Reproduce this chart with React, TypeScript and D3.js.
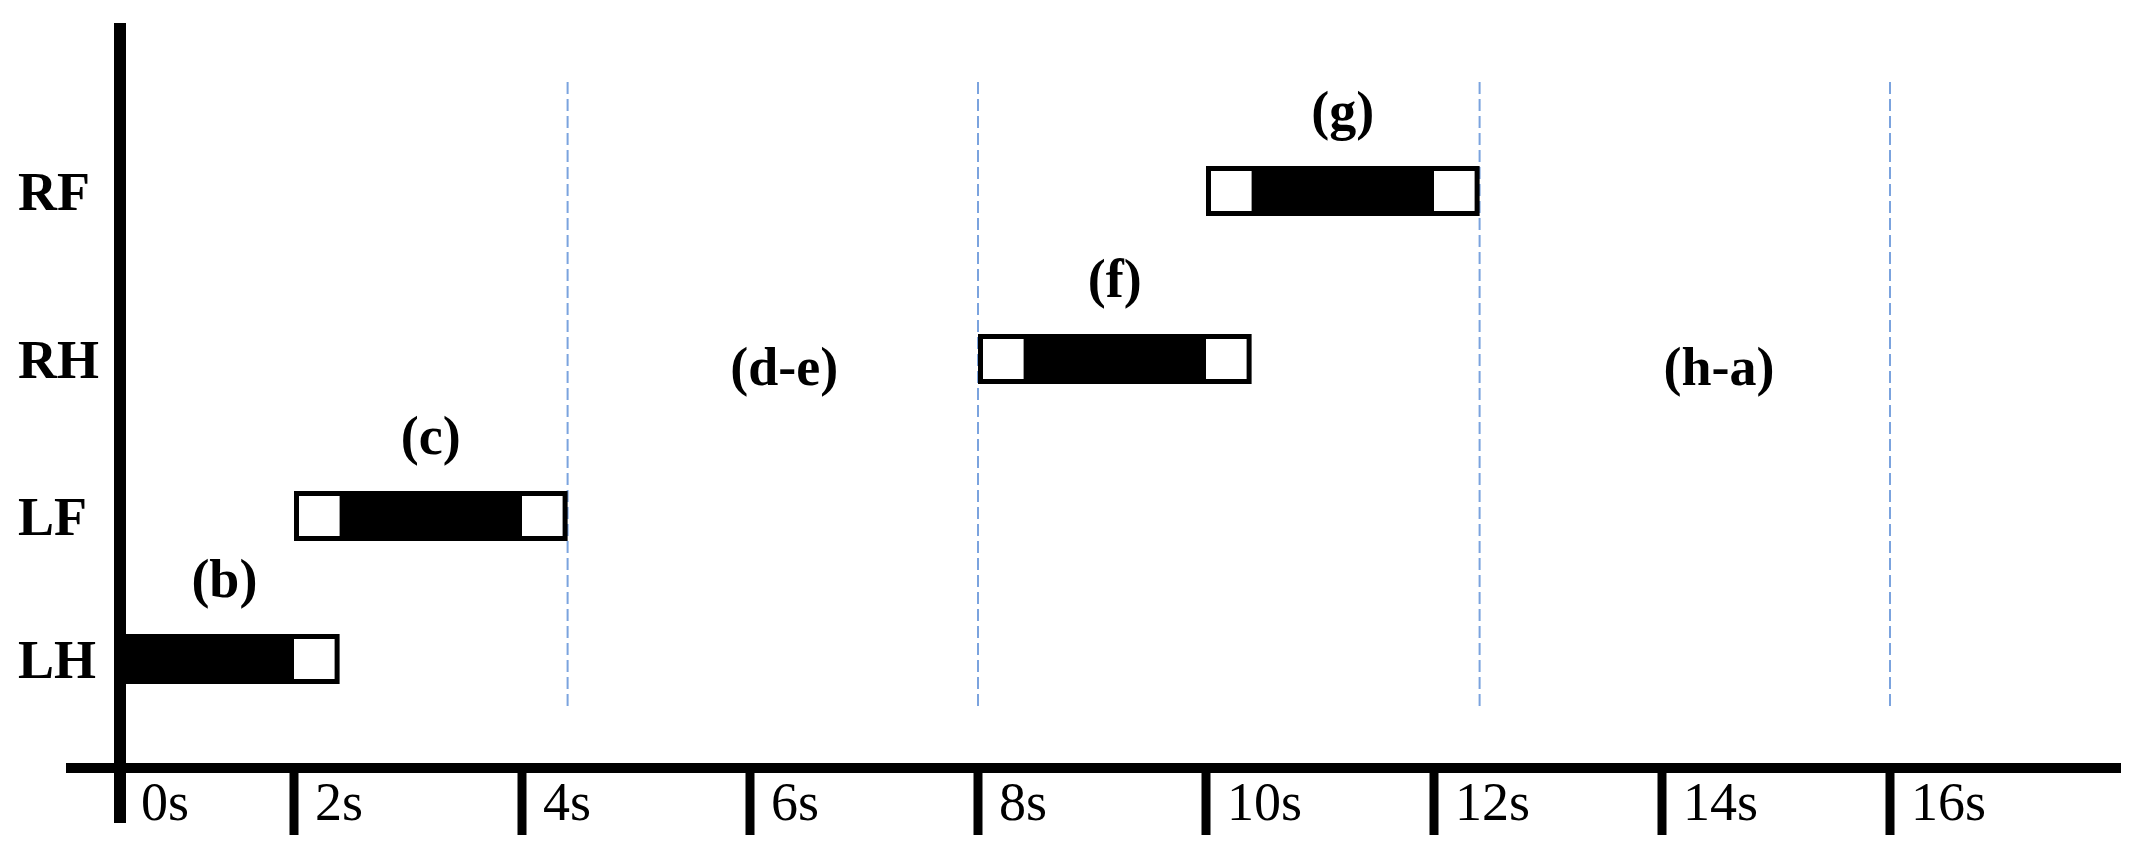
import React from "react";
import * as d3 from "d3";

// ---- data ----
const limbs = ["LH", "LF", "RH", "RF"];
const barStart = [0, 2, 8, 10];
const barEnd = [2.4, 4.4, 10.4, 12.4];
const padStart = [0, 0.4, 0.4, 0.4];
const padEnd = [0.4, 0.4, 0.4, 0.4];
const barLabels = ["(b)", "(c)", "(f)", "(g)"];
const tickValues = [0, 2, 4, 6, 8, 10, 12, 14, 16];
const tickLabels = ["0s", "2s", "4s", "6s", "8s", "10s", "12s", "14s", "16s"];
const phaseBounds = [4.4, 8, 12.4, 16];
const gapLabels = ["(d-e)", "(h-a)"];
const gapCenters = [6.3, 14.5];
const gapRow = ["RH", "RH"];

const W = 2139;
const H = 857;
const FONT = "'Liberation Serif', 'Times New Roman', serif";

export default function App() {
  const xs = d3.scaleLinear().domain([0, 2, 16]).range([120, 294, 1890]);
  const ys = d3
    .scaleOrdinal<string, number>()
    .domain(limbs)
    .range([659, 516, 359, 191]);
  const barH = 50;
  const b = 5;
  const axisY = 768;
  const axisX = xs(0);

  return (
    <svg
      width={W}
      height={H}
      style={{ position: "absolute", left: 0, top: 0, background: "#fff" }}
      fontFamily={FONT}
    >
      <rect x={0} y={0} width={W} height={H} fill="#fff" />
      {/* dashed phase separators */}
      {phaseBounds.map((t, i) => (
        <line
          key={"d" + i}
          x1={xs(t)}
          x2={xs(t)}
          y1={82}
          y2={708}
          stroke="#7BA3DE"
          strokeWidth={2}
          strokeDasharray="12,5"
        />
      ))}
      {/* bars */}
      {limbs.map((l, i) => {
        const x0 = xs(barStart[i]);
        const x1 = xs(barEnd[i]);
        const yc = ys(l) as number;
        const top = yc - barH / 2;
        return (
          <g key={"b" + i}>
            <rect x={x0} y={top} width={x1 - x0} height={barH} fill="#000" />
            {padStart[i] > 0 && (
              <rect
                x={x0 + b}
                y={top + b}
                width={xs(barStart[i] + padStart[i]) - x0 - b}
                height={barH - 2 * b}
                fill="#fff"
              />
            )}
            {padEnd[i] > 0 && (
              <rect
                x={xs(barEnd[i] - padEnd[i])}
                y={top + b}
                width={x1 - b - xs(barEnd[i] - padEnd[i])}
                height={barH - 2 * b}
                fill="#fff"
              />
            )}
            <text
              x={xs((barStart[i] + barEnd[i]) / 2)}
              y={top - 37}
              textAnchor="middle"
              fontWeight="bold"
              fontSize={54}
            >
              {barLabels[i]}
            </text>
            <text x={18} y={yc + 19} fontWeight="bold" fontSize={54}>
              {l}
            </text>
          </g>
        );
      })}
      {gapLabels.map((g, i) => (
        <text
          key={"g" + i}
          x={xs(gapCenters[i])}
          y={(ys(gapRow[i]) as number) + 26}
          textAnchor="middle"
          fontWeight="bold"
          fontSize={54}
        >
          {g}
        </text>
      ))}
      {/* axes */}
      <line x1={66} x2={2121} y1={axisY} y2={axisY} stroke="#000" strokeWidth={10} />
      <line x1={axisX} x2={axisX} y1={23} y2={823} stroke="#000" strokeWidth={12} />
      {tickValues.map((t, i) => (
        <g key={"t" + i}>
          {t !== 0 && (
            <line
              x1={xs(t)}
              x2={xs(t)}
              y1={axisY}
              y2={835}
              stroke="#000"
              strokeWidth={9}
            />
          )}
          <text x={xs(t) + 21} y={820} fontSize={54}>
            {tickLabels[i]}
          </text>
        </g>
      ))}
    </svg>
  );
}
